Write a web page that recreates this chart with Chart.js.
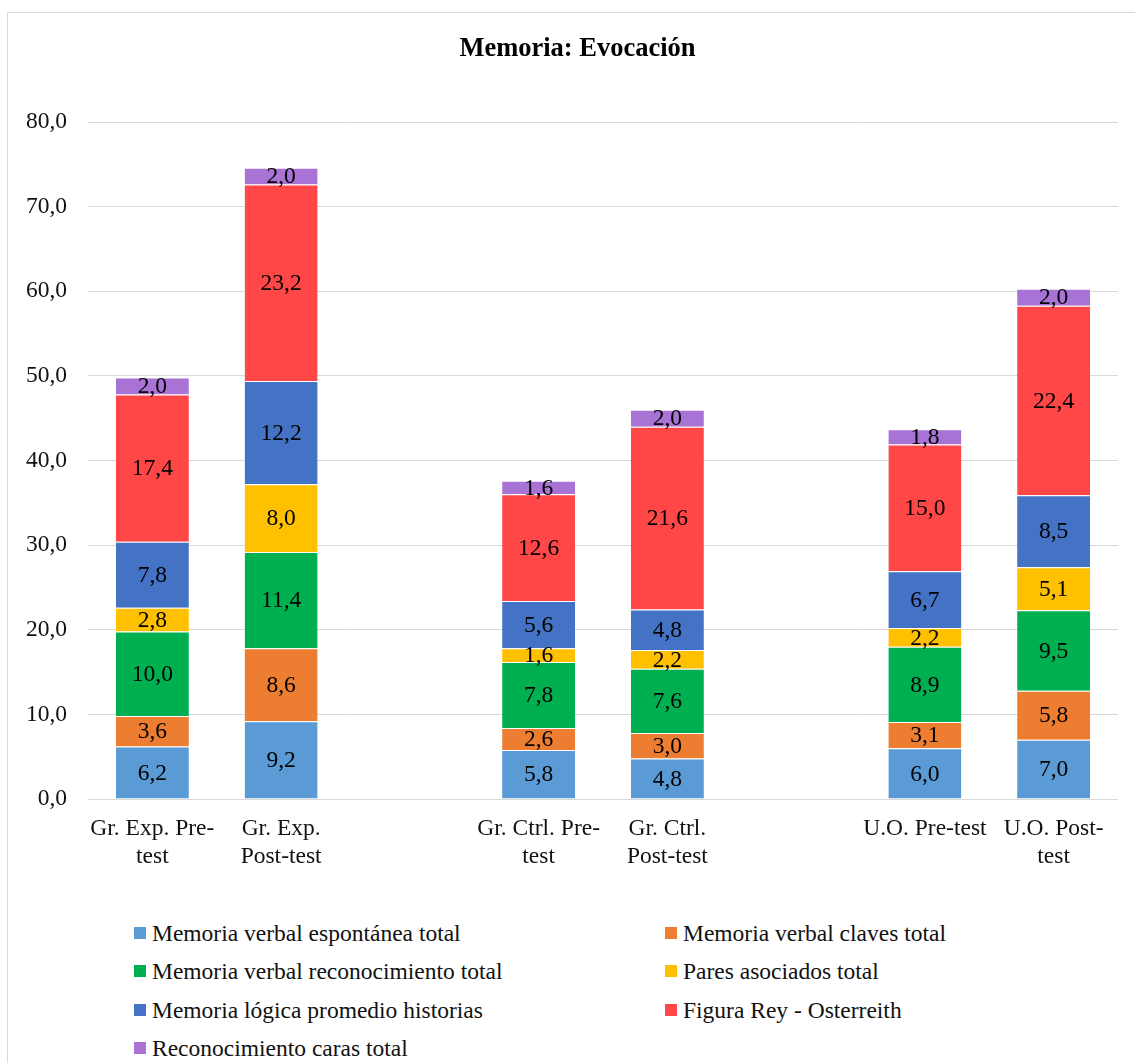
<!DOCTYPE html>
<html lang="es">
<head>
<meta charset="utf-8">
<title>Memoria: Evocación</title>
<script src="https://cdn.jsdelivr.net/npm/chart.js@4.4.1/dist/chart.umd.min.js"></script>
<style>
  html, body { margin: 0; padding: 0; width: 1135px; height: 1063px; overflow: hidden; background: #fff; }
  #frame {
    position: absolute; left: 7px; top: 12px; width: 1200px; height: 1200px;
    border-left: 1px solid #d9d9d9; border-top: 1px solid #d9d9d9; background: #fff;
  }
  #chartBox { position: absolute; left: 0; top: 0; width: 1139px; height: 890px; }
  #legend { position: absolute; left: 0; top: 0; font-family: "Liberation Serif", "Times New Roman", serif; font-size: 23.5px; color: #111; }
  .item { position: absolute; height: 38px; line-height: 38px; display: flex; align-items: center; white-space: nowrap; }
  .swatch { width: 12px; height: 12px; margin-right: 6px; flex: none; }
</style>
</head>
<body>
<div id="frame">
  <div id="chartBox"><canvas id="chart"></canvas></div>
  <div id="legend"></div>
</div>
<script>
const chartTitle = "Memoria: Evocación";

// Group labels (empty strings leave a gap between the three groups)
const categories = [
  ["Gr. Exp. Pre-", "test"],
  ["Gr. Exp.", "Post-test"],
  "",
  ["Gr. Ctrl. Pre-", "test"],
  ["Gr. Ctrl.", "Post-test"],
  "",
  "U.O. Pre-test",
  ["U.O. Post-", "test"]
];

const seriesNames = [
  "Memoria verbal espontánea total",
  "Memoria verbal claves total",
  "Memoria verbal reconocimiento total",
  "Pares asociados total",
  "Memoria lógica promedio historias",
  "Figura Rey - Osterreith",
  "Reconocimiento caras total"
];

const espontanea     = [6.2, 9.2, null, 5.8, 4.8, null, 6.0, 7.0];
const claves         = [3.6, 8.6, null, 2.6, 3.0, null, 3.1, 5.8];
const reconocimiento = [10.0, 11.4, null, 7.8, 7.6, null, 8.9, 9.5];
const pares          = [2.8, 8.0, null, 1.6, 2.2, null, 2.2, 5.1];
const logica         = [7.8, 12.2, null, 5.6, 4.8, null, 6.7, 8.5];
const figuraRey      = [17.4, 23.2, null, 12.6, 21.6, null, 15.0, 22.4];
const caras          = [2.0, 2.0, null, 1.6, 2.0, null, 1.8, 2.0];

const seriesValues = [espontanea, claves, reconocimiento, pares, logica, figuraRey, caras];

const yTicks = [0, 10, 20, 30, 40, 50, 60, 70, 80];

const seriesColors = ["#5B9BD5", "#ED7D31", "#00B050", "#FFC000", "#4472C4", "#FF4747", "#A873D5"];

const FONT = '"Liberation Serif", "Times New Roman", serif';
const fmt = v => Number(v).toFixed(1).replace(".", ",");

// Writes each segment's value in the middle of the segment
const segmentLabels = {
  id: "segmentLabels",
  afterDatasetsDraw(chart) {
    const ctx = chart.ctx;
    ctx.save();
    ctx.font = "23.5px " + FONT;
    ctx.fillStyle = "#000";
    ctx.textAlign = "center";
    ctx.textBaseline = "middle";
    chart.data.datasets.forEach((ds, di) => {
      const meta = chart.getDatasetMeta(di);
      meta.data.forEach((bar, i) => {
        const v = ds.data[i];
        if (v === null || v === undefined) return;
        const p = bar.getProps(["x", "y", "base"], true);
        ctx.fillText(fmt(v), p.x, (p.y + p.base) / 2 + 1);
      });
    });
    ctx.restore();
  }
};

// Bold heading centred across the whole canvas, in the space kept by the top padding
const heading = {
  id: "heading",
  afterDraw(chart) {
    const ctx = chart.ctx;
    ctx.save();
    ctx.font = "bold 26.5px " + FONT;
    ctx.fillStyle = "#000";
    ctx.textAlign = "center";
    ctx.textBaseline = "middle";
    ctx.fillText(chartTitle, chart.width / 2, 36);
    ctx.restore();
  }
};

new Chart(document.getElementById("chart"), {
  type: "bar",
  data: {
    labels: categories,
    datasets: seriesNames.map((name, k) => ({
      label: name,
      data: seriesValues[k],
      backgroundColor: seriesColors[k],
      borderColor: "rgba(255,255,255,0.75)",
      borderWidth: { top: 1, left: 0, right: 0, bottom: 0 },
      borderSkipped: false,
      categoryPercentage: 1,
      barPercentage: 0.567
    }))
  },
  options: {
    responsive: true,
    maintainAspectRatio: false,
    animation: false,
    layout: { padding: { left: 18, right: 29, top: 109, bottom: 0 } },
    plugins: {
      legend: { display: false },
      tooltip: { enabled: false },
      title: { display: false }
    },
    scales: {
      x: {
        stacked: true,
        grid: { display: false },
        border: { display: false },
        ticks: {
          color: "#111",
          font: { family: FONT, size: 23.5, lineHeight: 1.2 },
          padding: 8,
          autoSkip: false,
          maxRotation: 0,
          minRotation: 0
        },
        afterFit(scale) { scale.height = 104; }
      },
      y: {
        stacked: true,
        min: 0,
        max: 80,
        afterBuildTicks(scale) { scale.ticks = yTicks.map(v => ({ value: v })); },
        grid: { color: "#d9d9d9", lineWidth: 1, drawTicks: false },
        border: { display: false },
        ticks: {
          color: "#111",
          font: { family: FONT, size: 23.5 },
          padding: 21,
          callback: v => fmt(v)
        },
        afterFit(scale) { scale.width = 62; }
      }
    }
  },
  plugins: [segmentLabels, heading]
});

// Legend in two columns, filled row by row
const legend = document.getElementById("legend");
const colX = [126, 657];
const rowY = [913, 951, 990, 1028];
seriesNames.forEach((name, k) => {
  const item = document.createElement("div");
  item.className = "item";
  item.style.left = colX[k % 2] + "px";
  item.style.top = (rowY[Math.floor(k / 2)] - 12) + "px";
  const sw = document.createElement("span");
  sw.className = "swatch";
  sw.style.background = seriesColors[k];
  const tx = document.createElement("span");
  tx.textContent = name;
  item.appendChild(sw);
  item.appendChild(tx);
  legend.appendChild(item);
});
</script>
</body>
</html>
